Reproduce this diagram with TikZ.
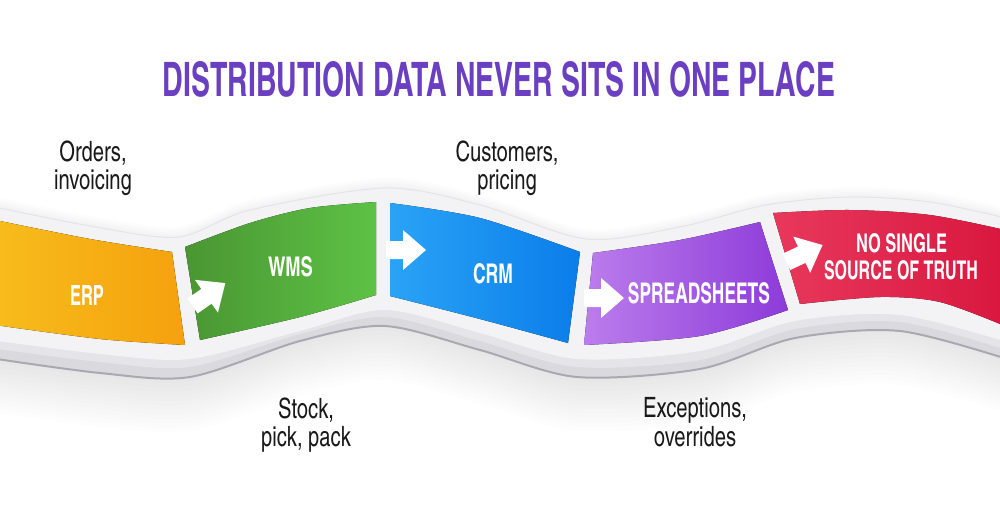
\documentclass[tikz,border=0pt]{standalone}
\usepackage{fontspec}
\usepackage{graphicx}
\newfontfamily\cnfont{texgyreheroscn}[Extension=.otf,UprightFont=*-regular,BoldFont=*-bold]
\definecolor{titlepurple}{HTML}{6B3FC1}
\definecolor{erpL}{HTML}{F7BC1C}
\definecolor{erpR}{HTML}{F5A10D}
\definecolor{wmsL}{HTML}{4A9632}
\definecolor{wmsR}{HTML}{5DC245}
\definecolor{crmL}{HTML}{2AA3F6}
\definecolor{crmR}{HTML}{0B7DEA}
\definecolor{sprL}{HTML}{BB7DEC}
\definecolor{sprR}{HTML}{8D3BD9}
\definecolor{redL}{HTML}{E8385C}
\definecolor{redR}{HTML}{D9173F}
\definecolor{face}{HTML}{F3F3F5}
\definecolor{faceedge}{HTML}{E4E4E8}
\definecolor{edgegray}{HTML}{D9D9DE}
\definecolor{edgelight}{HTML}{E5E5E9}
\definecolor{edgeline}{HTML}{A9A9B1}
\definecolor{sidetext}{HTML}{1A1A1A}
\begin{document}
\begin{tikzpicture}[x=1pt,y=-1pt,
  titletext/.style={inner sep=0pt,text=titlepurple,font=\cnfont\bfseries},
  boxlabel/.style={inner sep=0pt,text=white,font=\cnfont\bfseries},
  sidelabel/.style={inner sep=0pt,text=sidetext,font=\cnfont\fontsize{28}{27}\selectfont},
  flowarrow/.style={fill=white}]
\useasboundingbox (0,0) rectangle (1000,522);
\fill[white] (0,0) rectangle (1000,522);

% soft shadow below the ribbon
\foreach \k in {1,...,12}{
  \begin{scope}[yshift={-4.5*\k pt}]
  \fill[black,opacity=0.009] (-10,250) -- plot[smooth] coordinates {(-10,358) (100,373) (190,377) (300,341) (385,326) (480,350) (577,377) (700,369) (795,338) (900,331) (1010,360)} -- (1010,250) -- cycle;
  \end{scope}
}
% faint shadow above the ribbon
\foreach \k in {1,...,4}{
  \begin{scope}[yshift={2.5*\k pt}]
  \fill[black,opacity=0.01] (-10,300) -- plot[smooth] coordinates {(-10,206) (90,226) (178,237) (250,210) (385,188) (480,205) (586,239) (680,227) (766,205) (850,197) (930,202) (1010,219)} -- (1010,300) -- cycle;
  \end{scope}
}

% gray thickness of the ribbon
\fill[edgegray] plot[smooth] coordinates {(-10,340) (100,354) (190,359) (300,331) (385,310) (480,333) (577,359) (700,351) (795,321) (900,315) (1010,343)}
  -- plot[smooth] coordinates {(1010,360) (900,331) (795,338) (700,369) (577,377) (480,350) (385,326) (300,341) (190,377) (100,373) (-10,358)} -- cycle;
\fill[edgelight] plot[smooth] coordinates {(-10,340) (100,354) (190,359) (300,331) (385,310) (480,333) (577,359) (700,351) (795,321) (900,315) (1010,343)}
  -- plot[smooth] coordinates {(1010,351) (900,322) (795,329) (700,360) (577,367) (480,341) (385,317) (300,334) (190,367) (100,362) (-10,348)} -- cycle;
\draw[edgeline,line width=2pt] plot[smooth] coordinates {(-10,358) (100,373) (190,377) (300,341) (385,326) (480,350) (577,377) (700,369) (795,338) (900,331) (1010,360)};

% white face of the ribbon
\fill[face] plot[smooth] coordinates {(-10,206) (90,226) (178,237) (250,210) (385,188) (480,205) (586,239) (680,227) (766,205) (850,197) (930,202) (1010,219)}
  -- plot[smooth] coordinates {(1010,343) (900,315) (795,321) (700,351) (577,359) (480,333) (385,310) (300,331) (190,359) (100,354) (-10,340)} -- cycle;
\draw[faceedge,line width=1pt] plot[smooth] coordinates {(-10,206) (90,226) (178,237) (250,210) (385,188) (480,205) (586,239) (680,227) (766,205) (850,197) (930,202) (1010,219)};

% coloured segments
\fill[left color=erpL,right color=erpR] plot[smooth] coordinates {(-5,220) (90,239) (172,252)}
  -- plot[smooth] coordinates {(185,345) (100,339) (-5,325)} -- cycle;
\fill[left color=wmsL,right color=wmsR] plot[smooth] coordinates {(185,247) (250,223) (310,208) (376,202)}
  -- plot[smooth] coordinates {(376,295) (300,317) (200,340)} -- cycle;
\fill[left color=crmL,right color=crmR] plot[smooth] coordinates {(390,203) (480,218) (580,252)}
  -- plot[smooth] coordinates {(568,343) (480,319) (390,296)} -- cycle;
\fill[left color=sprL,right color=sprR] plot[smooth] coordinates {(593,253) (680,240) (760,222)}
  -- plot[smooth] coordinates {(788,310) (700,336) (584,345)} -- cycle;
\fill[left color=redL,right color=redR] plot[smooth] coordinates {(773,213) (850,210) (930,215) (1005,230)}
  -- plot[smooth] coordinates {(1005,326) (940,302) (880,297) (800,304)} -- cycle;

% arrows between segments
\foreach \px/\py/\ang in {204/298/35, 400/250/0, 598/298/0, 799/256/25}{
  \fill[flowarrow,shift={(\px,\py)},rotate=\ang] (-14,-9) -- (3,-9) -- (3,-20) -- (26,0) -- (3,20) -- (3,9) -- (-14,9) -- cycle;
}

% title
\node[titletext] (title) at (499,79.5) {\resizebox{672pt}{35pt}{DISTRIBUTION DATA NEVER SITS IN ONE PLACE}};

% segment labels
\node[boxlabel] (erp) at (87,295) {\resizebox{34pt}{20pt}{ERP}};
\node[boxlabel] (wms) at (290.5,267) {\resizebox{45pt}{20pt}{WMS}};
\node[boxlabel] (crm) at (493,274) {\resizebox{40pt}{20pt}{CRM}};
\node[boxlabel] (sheets) at (699,293.5) {\resizebox{142pt}{21pt}{SPREADSHEETS}};
\node[boxlabel] (nosingle) at (901.5,243.5) {\resizebox{91pt}{19pt}{NO SINGLE}};
\node[boxlabel] (truth) at (901,270.5) {\resizebox{154pt}{19pt}{SOURCE OF TRUTH}};

% side labels
\node[sidelabel] (orders) at (93,169) {\scalebox{0.88}[1]{\begin{tabular}{@{}c@{}}Orders,\\invoicing\end{tabular}}};
\node[sidelabel] (customers) at (507,169) {\scalebox{0.88}[1]{\begin{tabular}{@{}c@{}}Customers,\\pricing\end{tabular}}};
\node[sidelabel] (stock) at (306,426) {\scalebox{0.88}[1]{\begin{tabular}{@{}c@{}}Stock,\\pick, pack\end{tabular}}};
\node[sidelabel] (exceptions) at (695,426) {\scalebox{0.88}[1]{\begin{tabular}{@{}c@{}}Exceptions,\\overrides\end{tabular}}};
\end{tikzpicture}
\end{document}
